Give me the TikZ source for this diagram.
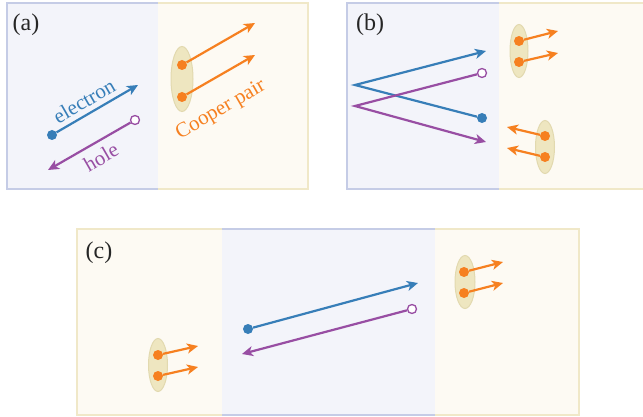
\documentclass[tikz,border=0pt]{standalone}
\usepackage{fontspec}
\setmainfont{Liberation Serif}
\usepackage{xcolor}
\usepackage{tikz}
\usetikzlibrary{arrows.meta, shapes.geometric}

\definecolor{elblue}{RGB}{55,126,184}
\definecolor{hlpurple}{RGB}{152,78,163}
\definecolor{cporange}{RGB}{246,128,32}
\definecolor{nfill}{RGB}{243,244,250}
\definecolor{nedge}{RGB}{197,204,230}
\definecolor{sfill}{RGB}{253,250,243}
\definecolor{sedge}{RGB}{240,232,200}
\definecolor{blobfill}{RGB}{238,230,192}
\definecolor{blobedge}{RGB}{226,217,175}

\tikzset{
  nedgeline/.style={draw=nedge, line width=2.5pt},
  sedgeline/.style={draw=sedge, line width=2.5pt},
  eldot/.style={circle, fill=elblue, inner sep=0pt, minimum size=10pt},
  hldot/.style={circle, draw=hlpurple, fill=white, line width=1.3pt, inner sep=0pt, minimum size=9pt},
  cpdot/.style={circle, fill=cporange, inner sep=0pt, minimum size=10pt},
  tip/.style={-{Stealth[length=11pt, width=10pt, inset=3pt]}, line width=2.2pt},
  elarrow/.style={tip, elblue},
  hlarrow/.style={tip, hlpurple},
  cparrow/.style={tip, cporange},
  pairblob/.style={ellipse, fill=blobfill, draw=blobedge, line width=1pt, inner sep=0pt},
  panellabel/.style={font=\fontsize{24}{28}\selectfont, text=black!85},
  sloptext/.style={font=\fontsize{21}{24}\selectfont, rotate=30}
}

\begin{document}
\begin{tikzpicture}[x=1pt, y=-1pt]
  \useasboundingbox (0,0) rectangle (643,417);

  % panel (a)
  \fill[nfill] (7,3) rectangle (158,189);
  \fill[sfill] (158,3) rectangle (308,189);
  \draw[nedgeline] (158,3) -- (7,3) -- (7,189) -- (158,189);
  \draw[sedgeline] (158,3) -- (308,3) -- (308,189) -- (158,189);
  \node[panellabel] (labA) at (26,25) {(a)};

  \node[eldot] (elA) at (52,135) {};
  \coordinate (elAend) at (138,85);
  \draw[elarrow] (elA) -- (elAend);
  \node[sloptext, text=elblue] (elAtext) at (84,101) {electron};

  \node[hldot] (hlA) at (135,120) {};
  \coordinate (hlAend) at (48,170);
  \draw[hlarrow] (hlA) -- (hlAend);
  \node[sloptext, text=hlpurple] (hlAtext) at (101,157) {hole};

  \node[pairblob, minimum width=22pt, minimum height=65pt] (blobA) at (182,79) {};
  \node[cpdot] (cpAtop) at (182,65) {};
  \node[cpdot] (cpAbot) at (182,97) {};
  \coordinate (cpAtopend) at (255,23);
  \coordinate (cpAbotend) at (255,55);
  \draw[cparrow] (cpAtop) -- (cpAtopend);
  \draw[cparrow] (cpAbot) -- (cpAbotend);
  \node[sloptext, text=cporange] (cpAtext) at (221,110) {Cooper pair};

  % panel (b)
  \fill[nfill] (347,3) rectangle (499,189);
  \fill[sfill] (499,3) rectangle (650,189);
  \draw[nedgeline] (499,3) -- (347,3) -- (347,189) -- (499,189);
  \draw[sedgeline] (499,3) -- (650,3);
  \draw[sedgeline] (499,189) -- (650,189);
  \node[panellabel] (labB) at (370,25) {(b)};

  \node[eldot] (elB) at (482,118) {};
  \coordinate (elBturn) at (355,85);
  \coordinate (elBend) at (486,51);
  \draw[elarrow] (elB) -- (elBturn) -- (elBend);

  \node[hldot] (hlB) at (482,73) {};
  \coordinate (hlBturn) at (355,106);
  \coordinate (hlBend) at (486,142);
  \draw[hlarrow] (hlB) -- (hlBturn) -- (hlBend);

  \node[pairblob, minimum width=18pt, minimum height=53pt] (blobBup) at (519,51) {};
  \node[cpdot] (cpBtop) at (519,41) {};
  \node[cpdot] (cpBbot) at (519,62) {};
  \coordinate (cpBtopend) at (558,31);
  \coordinate (cpBbotend) at (558,53);
  \draw[cparrow] (cpBtop) -- (cpBtopend);
  \draw[cparrow] (cpBbot) -- (cpBbotend);

  \node[pairblob, minimum width=19pt, minimum height=53pt] (blobBlow) at (545,147) {};
  \node[cpdot] (cpBltop) at (545,136) {};
  \node[cpdot] (cpBlbot) at (545,157) {};
  \coordinate (cpBltopend) at (507,127);
  \coordinate (cpBlbotend) at (507,148);
  \draw[cparrow] (cpBltop) -- (cpBltopend);
  \draw[cparrow] (cpBlbot) -- (cpBlbotend);

  % panel (c)
  \fill[sfill] (77,229) rectangle (222,415);
  \fill[nfill] (222,229) rectangle (435,415);
  \fill[sfill] (435,229) rectangle (579,415);
  \draw[sedgeline] (222,229) -- (77,229) -- (77,415) -- (222,415);
  \draw[nedgeline] (222,229) -- (435,229);
  \draw[nedgeline] (222,415) -- (435,415);
  \draw[sedgeline] (435,229) -- (579,229) -- (579,415) -- (435,415);
  \node[panellabel] (labC) at (99,253) {(c)};

  \node[pairblob, minimum width=19pt, minimum height=53pt] (blobCl) at (158,365) {};
  \node[cpdot] (cpCltop) at (158,355) {};
  \node[cpdot] (cpClbot) at (158,376) {};
  \coordinate (cpCltopend) at (198,346);
  \coordinate (cpClbotend) at (198,367);
  \draw[cparrow] (cpCltop) -- (cpCltopend);
  \draw[cparrow] (cpClbot) -- (cpClbotend);

  \node[eldot] (elC) at (248,329) {};
  \coordinate (elCend) at (418,283);
  \draw[elarrow] (elC) -- (elCend);

  \node[hldot] (hlC) at (412,309) {};
  \coordinate (hlCend) at (242,354);
  \draw[hlarrow] (hlC) -- (hlCend);

  \node[pairblob, minimum width=20pt, minimum height=53pt] (blobCr) at (465,282) {};
  \node[cpdot] (cpCrtop) at (464,272) {};
  \node[cpdot] (cpCrbot) at (464,293) {};
  \coordinate (cpCrtopend) at (503,262);
  \coordinate (cpCrbotend) at (503,283);
  \draw[cparrow] (cpCrtop) -- (cpCrtopend);
  \draw[cparrow] (cpCrbot) -- (cpCrbotend);
\end{tikzpicture}
\end{document}
